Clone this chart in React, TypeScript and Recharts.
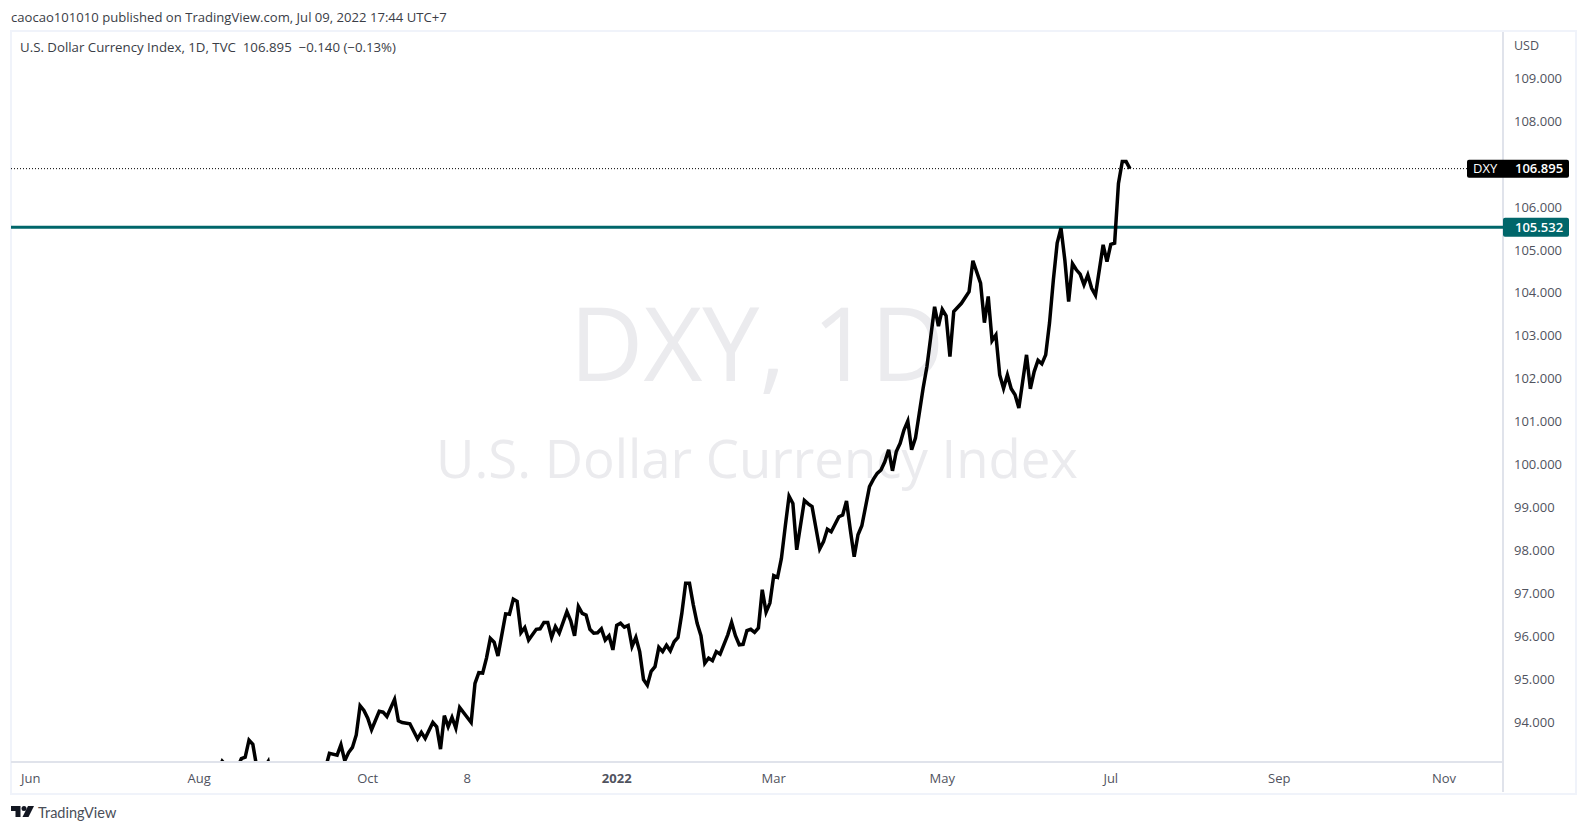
import React from "react";
import { LineChart, Line, XAxis, YAxis, ReferenceLine } from "recharts";

const FONT = "'Open Sans', 'Noto Sans', sans-serif";

const hiddenBelowPane: [number, number][] = [
  [0, 89.9], [5, 90.1], [12, 90.5], [20, 91.8], [30, 92.5], [35, 92.8], [42, 92.1], [46, 92.6], [49, 92.9], [50, 93.1],
  [52, 92.9], [54, 92.95], [55, 93.16], [56, 93.19], [57, 93.59], [58, 93.49], [59, 92.97], [60, 92.8], [61, 92.95], [62, 93.09],
  [63, 92.6], [66, 92.1], [70, 92.6], [74, 92.9], [77, 92.95],
];
const closesAutumn: [number, number][] = [
  [78, 93.28], [80, 93.24], [81, 93.48], [82, 93.11], [83, 93.3], [84, 93.42], [85, 93.71], [86, 94.39], [87, 94.28], [88, 94.1],
  [89, 93.83], [91, 94.26], [92, 94.24], [93, 94.14], [95, 94.54], [96, 94.04], [97, 94.0], [99, 93.97], [101, 93.62], [102, 93.77],
  [103, 93.63], [105, 94.0], [106, 93.9], [107, 93.38], [108, 94.16], [109, 93.9], [110, 94.12], [111, 93.87], [112, 94.35], [115, 94.0],
  [116, 94.91], [117, 95.16],
];
const closesWinter: [number, number][] = [
  [118, 95.15], [119, 95.5], [120, 95.96], [121, 95.87], [122, 95.55], [124, 96.53], [125, 96.52], [126, 96.87], [127, 96.82], [128, 96.09],
  [129, 96.21], [130, 95.92], [132, 96.17], [133, 96.18], [134, 96.33], [135, 96.33], [136, 95.98], [137, 96.23], [138, 96.08], [140, 96.58],
  [141, 96.37], [142, 96.02], [143, 96.7], [144, 96.54], [145, 96.5], [146, 96.17], [147, 96.08], [148, 96.09], [149, 96.18], [150, 95.92],
  [151, 96.02], [152, 95.69], [153, 96.26], [154, 96.31], [155, 96.22], [156, 96.26], [157, 95.77], [158, 95.98], [159, 95.65], [160, 95.0],
  [161, 94.87], [162, 95.19], [163, 95.3], [164, 95.75], [165, 95.65], [166, 95.8], [167, 95.67], [168, 95.88], [169, 95.98], [170, 96.54],
  [171, 97.24], [172, 97.24], [173, 96.74], [174, 96.31], [175, 96.02], [176, 95.38], [177, 95.5], [178, 95.44], [179, 95.65], [180, 95.59],
  [182, 96.04], [183, 96.33], [184, 96.02], [185, 95.81], [186, 95.82], [187, 96.14], [188, 96.17], [189, 96.1],
];
const closesSpring: [number, number][] = [
  [190, 96.2], [191, 97.09], [192, 96.57], [193, 96.78], [194, 97.42], [195, 97.38], [196, 97.82], [197, 98.56], [198, 99.27], [199, 99.1],
  [200, 98.02], [202, 99.17], [203, 99.09], [204, 99.03], [206, 98.04], [207, 98.21], [208, 98.5], [209, 98.44], [211, 98.79], [212, 98.83],
  [213, 99.16], [214, 98.48], [215, 97.86], [216, 98.37], [217, 98.58], [219, 99.49], [220, 99.66], [221, 99.8], [222, 99.88], [223, 100.07],
  [224, 100.35], [225, 99.86], [226, 100.31], [227, 100.5], [228, 100.81], [229, 101.02], [230, 100.35], [231, 100.62], [232, 101.2], [233, 101.78],
  [234, 102.29], [235, 102.98], [236, 103.68], [237, 103.23], [238, 103.62], [239, 103.47], [240, 102.52], [241, 103.57], [243, 103.76], [245, 104.03],
];
const closesSummer: [number, number][] = [
  [246, 104.75], [248, 104.23], [249, 103.31], [250, 103.92], [251, 102.89], [252, 103.02], [253, 102.09], [254, 101.78], [255, 102.09], [256, 101.77],
  [257, 101.63], [258, 101.32], [260, 102.56], [261, 101.77], [262, 102.17], [263, 102.43], [264, 102.35], [265, 102.56], [266, 103.3], [267, 104.3],
  [268, 105.16], [269, 105.51], [270, 104.77], [271, 103.8], [272, 104.68], [273, 104.54], [274, 104.44], [275, 104.19], [276, 104.42], [277, 104.11],
  [278, 103.95], [280, 105.12], [281, 104.73], [282, 105.13], [283, 105.16], [284, 106.55], [285, 107.06], [286, 107.06], [287, 106.895],
];

const xTicks = [0, 44, 88, 114, 153, 194, 238, 282, 326, 369];
const xLabels = ["Jun", "Aug", "Oct", "8", "2022", "Mar", "May", "Jul", "Sep", "Nov"];
const yTicks = [94, 95, 96, 97, 98, 99, 100, 101, 102, 103, 104, 105, 106, 108, 109];
const lastClose = 106.895;
const levelLine = 105.532;

const rows = [...hiddenBelowPane, ...closesAutumn, ...closesWinter, ...closesSpring, ...closesSummer].map(([bar, close]) => ({ bar, close }));

const TEXT = "#50535e";

function XTick(props: any) {
  const { x, y, payload } = props;
  const label = xLabels[xTicks.indexOf(payload.value)];
  return (
    <text x={x} y={y + 13} textAnchor="middle" fontFamily={FONT} fontSize={13} fontWeight={label === "2022" ? 700 : 400} fill={TEXT}>
      {label}
    </text>
  );
}

function YTick(props: any) {
  const { y, payload } = props;
  return (
    <text x={1514} y={y + 4.5} textAnchor="start" fontFamily={FONT} fontSize={13} fill={TEXT}>
      {payload.value.toFixed(3)}
    </text>
  );
}

function PriceTag(props: any) {
  const { viewBox } = props;
  const y = viewBox.y;
  return (
    <g>
      <rect x={1467} y={y - 9} width={102} height={18} rx={2} fill="#000" />
      <text x={1473} y={y + 4.5} fontFamily={FONT} fontSize={13} fill="#fff">DXY</text>
      <text x={1515} y={y + 4.5} fontFamily={FONT} fontSize={13} fontWeight={600} fill="#fff">{lastClose.toFixed(3)}</text>
    </g>
  );
}

function LevelTag(props: any) {
  const { viewBox } = props;
  const y = viewBox.y;
  return (
    <g>
      <rect x={1503} y={y - 9.5} width={66} height={19} rx={2} fill="#00666a" />
      <text x={1515} y={y + 4.5} fontFamily={FONT} fontSize={13} fontWeight={600} fill="#fff">{levelLine.toFixed(3)}</text>
    </g>
  );
}

const abs = (style: React.CSSProperties): React.CSSProperties => ({ position: "absolute", whiteSpace: "nowrap", ...style });

export default function App() {
  return (
    <div style={{ position: "absolute", left: 0, top: 0, width: 1586, height: 832, background: "#fff", overflow: "hidden", fontFamily: FONT }}>
      <div style={abs({ left: 11, top: 8, fontSize: 13.1, lineHeight: "18px", color: "#3a3d46" })}>
        caocao101010 published on TradingView.com, Jul 09, 2022 17:44 UTC+7
      </div>
      <div style={abs({ left: 10, top: 30, width: 1563, height: 761, border: "2px solid #f0f3fa" })} />
      <div style={abs({ left: 0, width: 1514, textAlign: "center", top: 267, fontSize: 102, lineHeight: "150px", color: "#ebebee" })}>DXY, 1D</div>
      <div style={abs({ left: 0, width: 1514, textAlign: "center", top: 423, fontSize: 52.7, lineHeight: "70px", color: "#ebebee" })}>U.S. Dollar Currency Index</div>
      <div style={abs({ left: 1502, top: 32, width: 2, height: 760, background: "#e0e3eb" })} />
      <div style={abs({ left: 0, top: 0 })}>
        <LineChart width={1586} height={832} data={rows} margin={{ top: 31, right: 11, bottom: 39, left: 11 }}>
          <XAxis dataKey="bar" type="number" domain={[-5.14, 384.4]} ticks={xTicks} tick={<XTick />} height={31} tickLine={false} axisLine={{ stroke: "#e0e3eb", strokeWidth: 2 }} allowDataOverflow interval={0} />
          <YAxis orientation="right" type="number" domain={[93.08, 110.1]} ticks={yTicks} tick={<YTick />} width={72} tickLine={false} axisLine={false} allowDataOverflow interval={0} />
          <ReferenceLine y={lastClose} stroke="#000" strokeWidth={1} strokeDasharray="1 2" label={<PriceTag />} />
          <ReferenceLine y={levelLine} stroke="#00666a" strokeWidth={3} label={<LevelTag />} />
          <Line dataKey="close" type="linear" stroke="#000" strokeWidth={3.5} dot={false} activeDot={false} isAnimationActive={false} />
        </LineChart>
      </div>
      <div style={abs({ left: 20, top: 38, fontSize: 13.25, lineHeight: "18px", color: "#3a3d46" })}>
        U.S. Dollar Currency Index, 1D, TVC&nbsp;&nbsp;106.895&nbsp;&nbsp;−0.140 (−0.13%)
      </div>
      <div style={abs({ left: 1514, top: 37, fontSize: 12.5, lineHeight: "18px", color: TEXT })}>USD</div>
      <svg style={abs({ left: 11, top: 805 })} width={24} height={13} viewBox="0 0 24 13">
        <path d="M0 1 H9.5 V12 H4.5 V6 H0 Z" fill="#131722" />
        <circle cx={13} cy={3.5} r={2.5} fill="#131722" />
        <path d="M17 1 H23 L17.5 12 H11.5 Z" fill="#131722" />
      </svg>
      <div style={abs({ left: 38, top: 804, fontSize: 14.5, lineHeight: "18px", color: "#4a4e58", fontFamily: "Lato, sans-serif" })}>TradingView</div>
    </div>
  );
}
